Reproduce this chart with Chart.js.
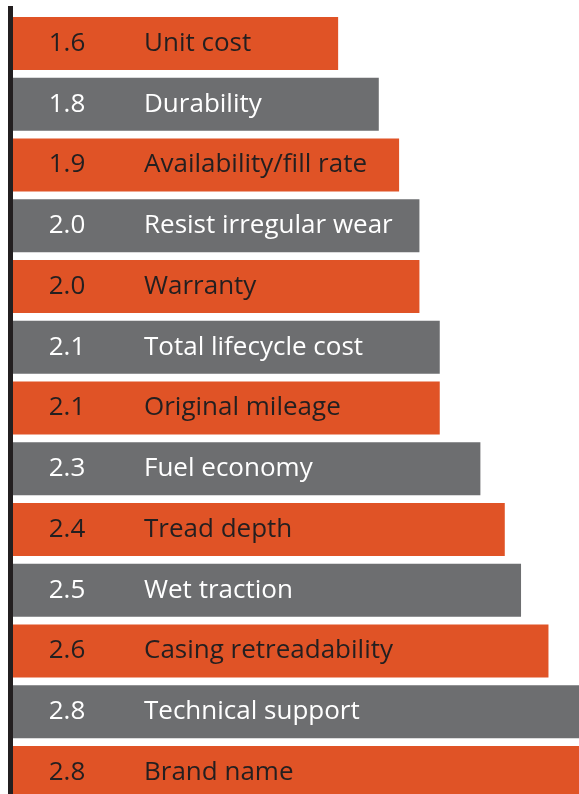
<!DOCTYPE html>
<html>
<head>
<meta charset="utf-8">
<script src="https://cdn.jsdelivr.net/npm/chart.js@4"></script>
<style>
html,body{margin:0;padding:0;background:#fff;overflow:hidden;width:579px;height:794px;}
#wrap{position:absolute;left:0;top:0;width:582px;height:803px;}
</style>
</head>
<body>
<div id="wrap"><canvas id="c" width="582" height="803"></canvas></div>
<script>
const categories = ["Unit cost","Durability","Availability/fill rate","Resist irregular wear","Warranty","Total lifecycle cost","Original mileage","Fuel economy","Tread depth","Wet traction","Casing retreadability","Technical support","Brand name"];
const values = [1.6, 1.8, 1.9, 2.0, 2.0, 2.1, 2.1, 2.3, 2.42, 2.5, 2.635, 2.8, 2.8];
const valueLabels = ["1.6","1.8","1.9","2.0","2.0","2.1","2.1","2.3","2.4","2.5","2.6","2.8","2.8"];

const ORANGE = "#e05326", GRAY = "#6d6e70";
const barColors = categories.map((_, i) => i % 2 === 0 ? ORANGE : GRAY);
const textColors = categories.map((_, i) => i % 2 === 0 ? "#231f20" : "#ffffff");

const FONT = '26px "Open Sans", "Noto Sans", sans-serif';

const labelPlugin = {
  id: 'inlabels',
  afterDatasetsDraw(chart) {
    const ctx = chart.ctx;
    const meta = chart.getDatasetMeta(0);
    const x0 = chart.scales.x.getPixelForValue(0);
    ctx.save();
    ctx.font = FONT;
    ctx.textBaseline = 'middle';
    meta.data.forEach((bar, i) => {
      ctx.fillStyle = textColors[i];
      ctx.textAlign = 'center';
      ctx.fillText(valueLabels[i], x0 + 54, bar.y);
      ctx.textAlign = 'left';
      ctx.fillText(categories[i], x0 + 131, bar.y);
    });
    // axis line
    ctx.fillStyle = '#231f20';
    ctx.fillRect(x0 - 5, 6, 5, chart.height);
    ctx.restore();
  }
};

new Chart(document.getElementById('c'), {
  type: 'bar',
  data: {
    labels: categories,
    datasets: [{
      data: values,
      backgroundColor: barColors,
      borderWidth: 0,
      barPercentage: 0.872,
      categoryPercentage: 1.0
    }]
  },
  options: {
    indexAxis: 'y',
    responsive: false,
    animation: false,
    devicePixelRatio: 1,
    layout: { padding: { left: 13, top: 13, right: 0, bottom: 0 } },
    plugins: { legend: { display: false }, tooltip: { enabled: false } },
    scales: {
      x: { display: false, min: 0, max: 2.8 },
      y: { display: false }
    }
  },
  plugins: [labelPlugin]
});
</script>
</body>
</html>
